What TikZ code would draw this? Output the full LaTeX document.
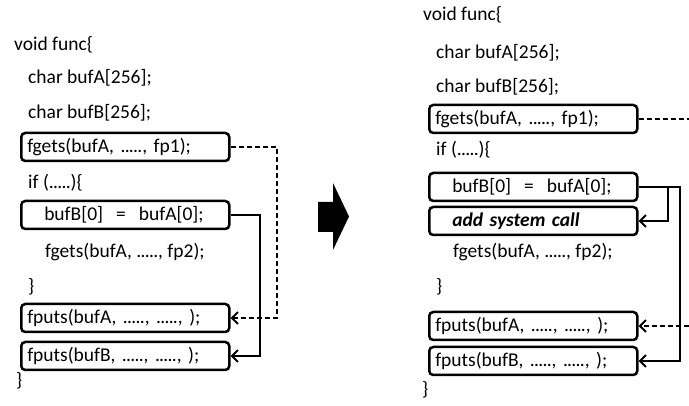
\documentclass[tikz,border=0pt]{standalone}
\usepackage{fontspec}
\setmainfont{Carlito}
\usetikzlibrary{positioning, arrows.meta}

% run of five tight dots
\newcommand{\fivedots}{.\kern-0.7pt.\kern-0.7pt.\kern-0.7pt.\kern-0.7pt.}

\tikzset{
  codeline/.style={anchor=west, inner sep=0pt, font=\fontsize{19.5}{22}\selectfont},
  codebox/.style={codeline, draw, line width=2.5pt, rounded corners=4pt,
    minimum width=208pt, minimum height=28pt, inner xsep=6pt,
    text width=196pt, align=left},
  link/.style={line width=2pt},
  dataline/.style={link, dash pattern=on 5pt off 3pt},
  tip/.style={-{Straight Barb[length=6pt,width=12pt]}},
}

\begin{document}
\begin{tikzpicture}[x=1pt, y=-1pt]
    \useasboundingbox (0,0) rectangle (689,406);

    % left: original code
    \node[codeline] (l-head)   at (14,45)  {void func\{};
    \node[codeline] (l-bufa)   at (28,78)  {char bufA[256];};
    \node[codeline] (l-bufb)   at (28,113) {char bufB[256];};
    \node[codebox]  (l-gets1)  at (20,147) {fgets(bufA, \fivedots, fp1);};
    \node[codeline] (l-if)     at (28,183) {if (\fivedots)\{};
    \node[codebox]  (l-copy)   at (20,215) {\hspace*{17pt}bufB[0]\ \ =\ \ bufA[0];};
    \node[codeline] (l-gets2)  at (45,252) {fgets(bufA, \fivedots, fp2);};
    \node[codeline] (l-close1) at (28,287) {\}};
    \node[codebox]  (l-putsa)  at (20,318) {fputs(bufA, \fivedots, \fivedots, );};
    \node[codebox]  (l-putsb)  at (20,356) {fputs(bufB, \fivedots, \fivedots, );};
    \node[codeline] (l-close2) at (16,381) {\}};

    % left: data flow
    \draw[dataline, tip] (l-gets1.east) -- ++(46,0) |- (l-putsa.east);
    \draw[link, tip] (l-copy.east) -- ++(29,0) |- (l-putsb.east);

    % big arrow
    \fill (318,202) -- (333,202) -- (333,183) -- (349,216.5)
        -- (333,250) -- (333,232) -- (318,232) -- cycle;

    % right: code with the added call
    \node[codeline] (r-head)   at (423,15)  {void func\{};
    \node[codeline] (r-bufa)   at (436,53)  {char bufA[256];};
    \node[codeline] (r-bufb)   at (436,87)  {char bufB[256];};
    \node[codebox]  (r-gets1)  at (428,119) {fgets(bufA, \fivedots, fp1);};
    \node[codeline] (r-if)     at (436,150) {if (\fivedots)\{};
    \node[codebox]  (r-copy)   at (428,187) {\hspace*{17pt}bufB[0]\ \ =\ \ bufA[0];};
    \node[codebox]  (r-call)   at (428,221) {\hspace*{17pt}\bfseries\itshape add system call};
    \node[codeline] (r-gets2)  at (453,252) {fgets(bufA, \fivedots, fp2);};
    \node[codeline] (r-close1) at (436,287) {\}};
    \node[codebox]  (r-putsa)  at (428,326) {fputs(bufA, \fivedots, \fivedots, );};
    \node[codebox]  (r-putsb)  at (428,361) {fputs(bufB, \fivedots, \fivedots, );};
    \node[codeline] (r-close2) at (422,390) {\}};

    % right: data flow (runs off the edge)
    \coordinate (r-out) at (689,119);
    \coordinate (r-in)  at (689,326);
    \draw[dataline] (r-gets1.east) -- (r-out);
    \draw[dataline, tip] (r-in) -- (r-putsa.east);
    \draw[link, tip] (r-copy.east) -- ++(29,0) |- (r-call.east);
    \draw[link, tip] (r-copy.east) -- ++(41,0) |- (r-putsb.east);
\end{tikzpicture}
\end{document}
